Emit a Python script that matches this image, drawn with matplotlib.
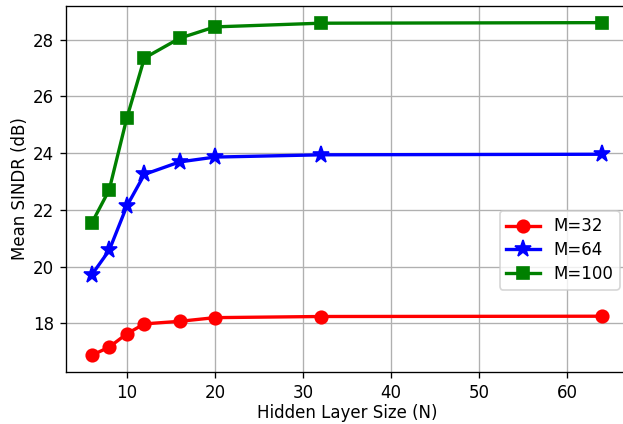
import matplotlib
matplotlib.use("Agg")
import matplotlib.pyplot as plt

# hidden layer sizes and mean SINDR per antenna count
hidden_sizes = [6, 8, 10, 12, 16, 20, 32, 64]
sindr_m32 = [16.87, 17.16, 17.63, 17.98, 18.07, 18.20, 18.24, 18.25]
sindr_m64 = [19.70, 20.57, 22.13, 23.25, 23.69, 23.86, 23.94, 23.96]
sindr_m100 = [21.52, 22.70, 25.23, 27.35, 28.05, 28.45, 28.58, 28.60]

dpi = 120
fig = plt.figure(figsize=(623 / dpi, 424 / dpi), dpi=dpi)
# right spine sits just past the image edge
ax = fig.add_axes([66 / 623, 52 / 424, (628 - 66) / 623, (372 - 6) / 424])

ax.plot(hidden_sizes, sindr_m32, color="red", marker="o", lw=2, ms=7.5, label="M=32")
ax.plot(hidden_sizes, sindr_m64, color="blue", marker="*", lw=2, ms=10.5, label="M=64")
ax.plot(hidden_sizes, sindr_m100, color="green", marker="s", lw=2, ms=7.5, label="M=100")

ax.set_xlabel("Hidden Layer Size (N)", labelpad=1.5)
ax.set_ylabel("Mean SINDR (dB)", labelpad=2.5)
ax.grid(True)
ax.legend(loc="lower right", bbox_to_anchor=(1.0, 0.202), labelspacing=0.35)

fig.savefig("out.png", dpi=dpi)
